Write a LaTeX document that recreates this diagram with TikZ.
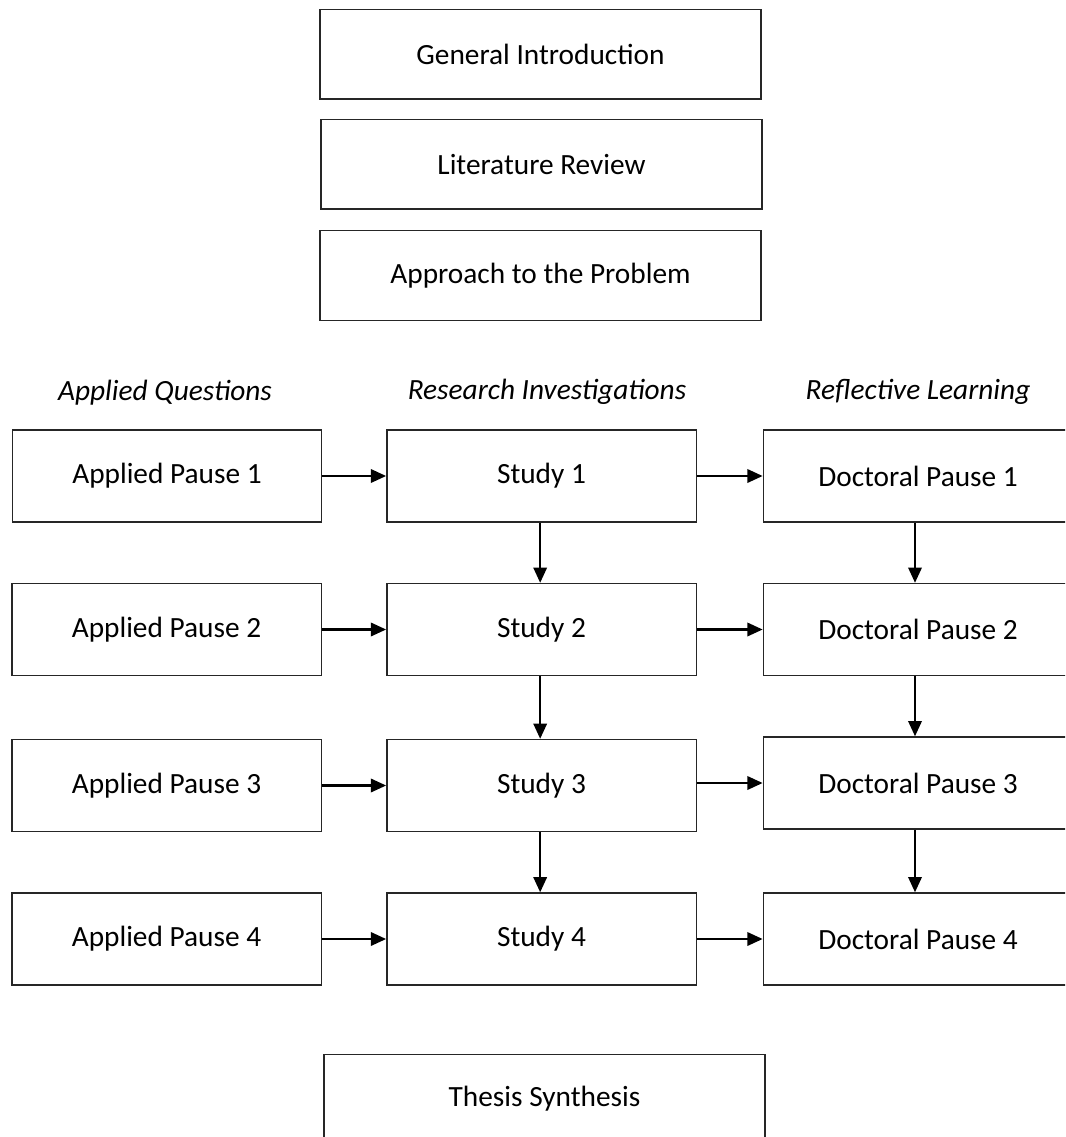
\documentclass[tikz,border=0pt]{standalone}
\usepackage{fontspec}
\setmainfont{Carlito}
\usetikzlibrary{arrows.meta}
\begin{document}
\begin{tikzpicture}[x=0.75pt,y=-0.75pt,
  label font/.style={font=\fontsize{22}{26}\selectfont},
  wide/.style={draw=black!85, line width=1pt, minimum width=330.75pt, minimum height=67pt,
    inner sep=0pt, label font},
  cell/.style={draw=black!85, line width=1pt, minimum width=232pt, minimum height=69pt,
    inner sep=0pt, label font},
  head/.style={font=\fontsize{22}{26}\selectfont\itshape, inner sep=0pt},
  flow/.style={-{Triangle[length=11.5pt,width=10pt]}, line width=1.9pt}]
% page area; the right column and the last box run past its edges
\clip (0,0) rectangle (1065,1137);

% opening chapters
\node[wide] (intro) at (540.5,54.5) {General Introduction};
\node[wide] (lit)   at (541.5,164.5) {Literature Review};
\node[wide] (appr)  at (540.5,275.5) {Approach to the Problem};

% column headings
\node[head] (hq) at (165,393) {Applied Questions};
\node[head] (hr) at (547,392) {Research Investigations};
\node[head] (hl) at (918,392) {Reflective Learning};

% three columns of pauses and studies
\node[cell] (a1) at (167,476)   {Applied Pause 1};
\node[cell] (s1) at (541.5,476) {Study 1};
\node[cell] (d1) at (918,476)   {Doctoral Pause 1};

\node[cell] (a2) at (166.5,629.5) {Applied Pause 2};
\node[cell] (s2) at (541.5,629.5) {Study 2};
\node[cell] (d2) at (918,629.5)   {Doctoral Pause 2};

\node[cell] (a3) at (166.5,785.5) {Applied Pause 3};
\node[cell] (s3) at (541.5,785.5) {Study 3};
\node[cell] (d3) at (918,783)     {Doctoral Pause 3};

\node[cell] (a4) at (166.5,939) {Applied Pause 4};
\node[cell] (s4) at (541.5,939) {Study 4};
\node[cell] (d4) at (918,939)   {Doctoral Pause 4};

% closing chapter
\node[wide] (synth) at (544.5,1099) {Thesis Synthesis};

% left to right along each row
\foreach \i in {1,2,3,4} {
  \draw[flow] (a\i.east) -- (s\i.west);
  \draw[flow] (s\i.east |- d\i.west) -- (d\i.west);
}
% down each of the two right columns
\foreach \i/\j in {1/2,2/3,3/4} {
  \draw[flow] ([xshift=-1pt]s\i.south) -- ([xshift=-1pt]s\j.north);
  \draw[flow] ([xshift=-2.25pt]d\i.south) -- ([xshift=-2.25pt]d\j.north);
}
\end{tikzpicture}
\end{document}
